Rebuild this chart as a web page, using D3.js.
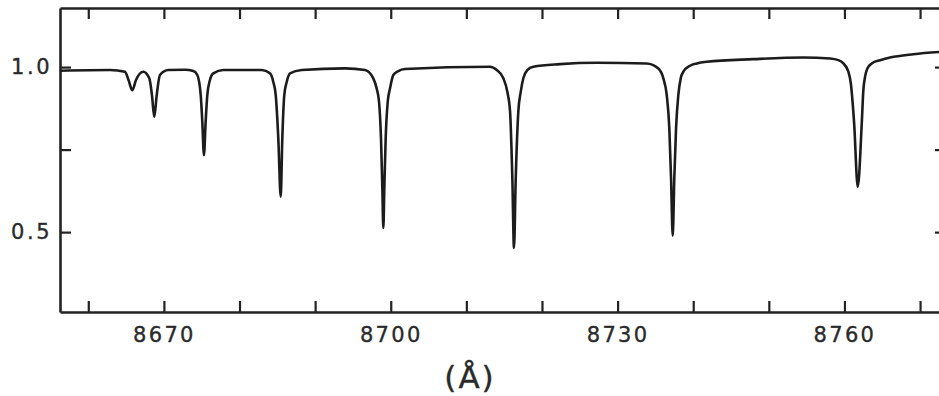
<!DOCTYPE html>
<html>
<head>
<meta charset="utf-8">
<script src="https://cdn.jsdelivr.net/npm/d3@7"></script>
<style>
  html, body { margin: 0; padding: 0; background: #fff; }
  svg { display: block; }
  .axis path, .axis line { stroke: #222; }
  .axis path { stroke-width: 2.6; }
  .axis line { stroke-width: 2.2; }
  .axis text, .title {
    font-family: "DejaVu Sans", sans-serif;
    fill: #2a2a2a;
    stroke: #2a2a2a;
    stroke-width: 0.35px;
  }
</style>
</head>
<body>
<svg id="chart" width="939" height="396"></svg>
<script>
(function () {
  // spectrum: wavelength (Å) and normalised flux
  const WAVELENGTH = [
    8656.26, 8662.87, 8664.85, 8665.32, 8665.82, 8666.31, 8667.27,
    8668.07, 8668.42, 8668.73, 8669.05, 8669.48, 8670.58,
    8672.79, 8673.89, 8674.42, 8674.87, 8675.08, 8675.30, 8675.52,
    8675.74, 8676.09, 8676.53, 8677.86,
    8682.93, 8684.03, 8684.47, 8684.79, 8685.13, 8685.45, 8685.66,
    8685.92, 8686.24, 8686.68, 8688.22,
    8693.95, 8696.60, 8697.69, 8698.14, 8698.45, 8698.71, 8698.89,
    8699.02, 8699.15, 8699.33, 8699.60, 8699.90, 8700.34, 8701.00, 8701.89,
    8713.13, 8714.02, 8714.89, 8715.42, 8715.78, 8716.08, 8716.30,
    8716.53, 8716.87, 8717.19, 8717.53, 8718.06, 8718.86,
    8722.39, 8727.24, 8733.85,
    8735.39, 8736.05, 8736.50, 8736.84, 8737.07, 8737.29, 8737.50,
    8737.73, 8738.03, 8738.35, 8738.70, 8739.58, 8740.47,
    8741.79, 8747.95, 8754.57, 8758.10,
    8759.20, 8759.86, 8760.52, 8760.84, 8761.28, 8761.76, 8762.29,
    8762.50, 8762.73, 8763.03, 8763.61, 8764.71,
    8766.03, 8769.11, 8773.43,
  ];

  const FLUX = [
    0.989, 0.991, 0.986, 0.961, 0.930, 0.961, 0.986,
    0.966, 0.915, 0.849, 0.915, 0.976, 0.991,
    0.992, 0.988, 0.976, 0.915, 0.834, 0.733, 0.834,
    0.915, 0.961, 0.981, 0.991,
    0.991, 0.981, 0.955, 0.915, 0.784, 0.607, 0.784,
    0.915, 0.955, 0.981, 0.991,
    0.996, 0.991, 0.966, 0.935, 0.895, 0.784, 0.632,
    0.513, 0.632, 0.784, 0.895, 0.935, 0.976, 0.988, 0.994,
    1.001, 0.991, 0.966, 0.925, 0.865, 0.663, 0.452,
    0.663, 0.865, 0.925, 0.966, 0.991, 1.001,
    1.009, 1.013, 1.011,
    0.996, 0.966, 0.915, 0.814, 0.663, 0.489, 0.663,
    0.814, 0.915, 0.966, 0.986, 1.004, 1.011,
    1.016, 1.024, 1.029, 1.026,
    1.021, 1.011, 0.986, 0.951, 0.830, 0.637, 0.830,
    0.930, 0.971, 0.996, 1.011, 1.021,
    1.029, 1.039, 1.047,
  ];

  const X_DOMAIN = [8656.26, 8773.43];
  const Y_DOMAIN = [0.258, 1.179];
  const X_TICKS = [8660, 8670, 8680, 8690, 8700, 8710, 8720, 8730, 8740, 8750, 8760, 8770];
  const X_TICK_LABELS = ["8670", "8700", "8730", "8760"];
  const Y_TICKS = [0.5, 0.75, 1.0];
  const Y_TICK_LABELS = ["0.5", "1.0"];
  const X_TITLE = "(Å)";

  const svg = d3.select("#chart");
  const left = 60;
  const right = 946;
  const top = 8;
  const bottom = 312;
  const tick = 11;

  const x = d3.scaleLinear().domain(X_DOMAIN).range([left, right]);
  const y = d3.scaleLinear().domain(Y_DOMAIN).range([bottom, top]);

  function xLabel(d) {
    const s = String(d);
    return X_TICK_LABELS.includes(s) ? s : "";
  }

  function yLabel(d) {
    const s = d3.format(".1f")(d);
    return d === 0.75 ? "" : Y_TICK_LABELS.includes(s) ? s : "";
  }

  // bottom axis with labels
  const gBottom = svg
    .append("g")
    .attr("class", "axis")
    .attr("transform", "translate(0," + bottom + ")")
    .call(
      d3.axisBottom(x)
        .tickValues(X_TICKS)
        .tickSizeInner(-tick)
        .tickSizeOuter(0)
        .tickPadding(15)
        .tickFormat(xLabel)
    );
  gBottom.selectAll("text")
    .style("font-size", "21px")
    .style("letter-spacing", "2.3px");

  svg
    .append("g")
    .attr("class", "axis")
    .attr("transform", "translate(0," + top + ")")
    .call(
      d3.axisTop(x)
        .tickValues(X_TICKS)
        .tickSizeInner(-tick)
        .tickSizeOuter(0)
        .tickFormat("")
    );

  const gLeft = svg
    .append("g")
    .attr("class", "axis")
    .attr("transform", "translate(" + left + ",0)")
    .call(
      d3.axisLeft(y)
        .tickValues(Y_TICKS)
        .tickSizeInner(-tick)
        .tickSizeOuter(0)
        .tickPadding(8)
        .tickFormat(yLabel)
    );
  gLeft.selectAll("text")
    .style("font-size", "21px")
    .style("letter-spacing", "2.5px");

  svg
    .append("g")
    .attr("class", "axis")
    .attr("transform", "translate(" + right + ",0)")
    .call(
      d3.axisRight(y)
        .tickValues(Y_TICKS)
        .tickSizeInner(-tick)
        .tickSizeOuter(0)
        .tickFormat("")
    );

  // spectrum
  const points = WAVELENGTH.map((w, i) => [w, FLUX[i]]);
  const line = d3
    .line()
    .x((d) => x(d[0]))
    .y((d) => y(d[1]))
    .curve(d3.curveMonotoneX);

  svg
    .append("path")
    .datum(points)
    .attr("d", line)
    .attr("fill", "none")
    .attr("stroke", "#1c1c1c")
    .attr("stroke-width", 2.6)
    .attr("stroke-linejoin", "round");

  svg
    .append("text")
    .attr("class", "title")
    .attr("x", 470)
    .attr("y", 388)
    .attr("text-anchor", "middle")
    .style("font-size", "31px")
    .style("letter-spacing", "2px")
    .text(X_TITLE);
})();
</script>
</body>
</html>
